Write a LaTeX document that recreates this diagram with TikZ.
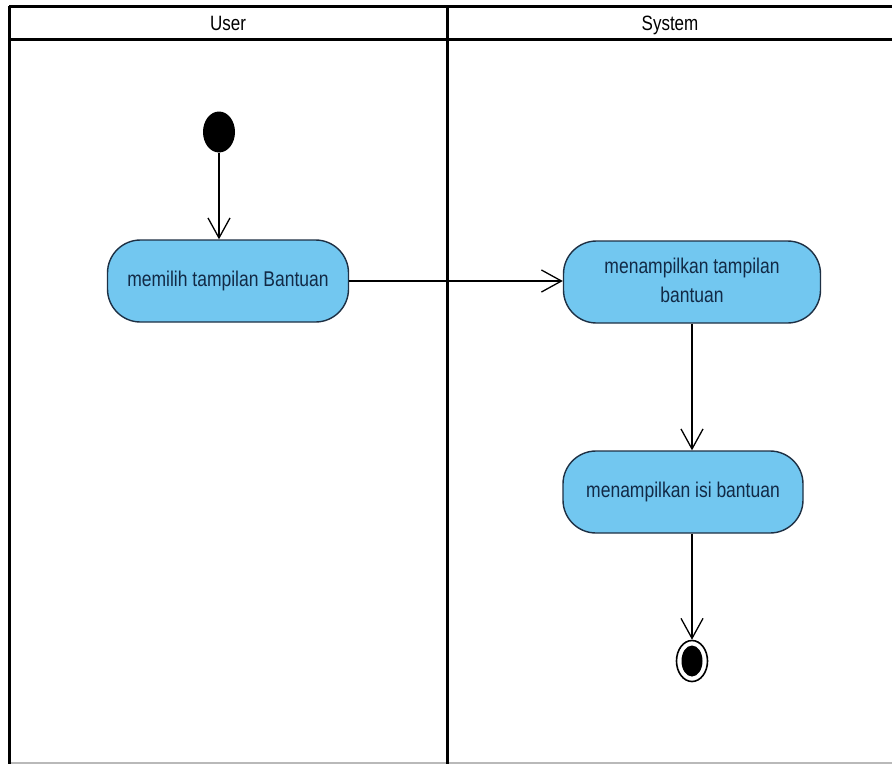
\documentclass[tikz,border=0pt]{standalone}
\usepackage{fontspec}
\usepackage{graphicx}
\setmainfont{Liberation Sans}
\usetikzlibrary{arrows.meta,shapes.geometric}
\definecolor{actfill}{RGB}{114,199,240}
\definecolor{actdraw}{RGB}{30,48,68}
\definecolor{acttext}{RGB}{18,42,70}
% labels are set slightly tall and narrow
\newcommand{\tallbox}[1]{\scalebox{1}[1.22]{\begin{tabular}{@{}c@{}}#1\end{tabular}}}
\begin{document}
\begin{tikzpicture}[x=1pt,y=-1pt,
  lane/.style={line width=3pt,black},
  lanehead/.style={font=\fontsize{17}{20}\selectfont,inner sep=0pt},
  action/.style={draw=actdraw,fill=actfill,line width=1.4pt,rounded corners=33pt,
    minimum height=82pt,text=acttext,font=\fontsize{17.5}{24.5}\selectfont,
    align=center,inner sep=0pt},
  flow/.style={line width=1.3pt,-{Straight Barb[length=20pt,width=22pt,line width=1.3pt]}},
  startdot/.style={ellipse,fill=black,minimum width=32pt,minimum height=41pt,inner sep=0pt},
  endring/.style={ellipse,draw=black,line width=1.6pt,minimum width=31pt,minimum height=41pt,inner sep=0pt},
  enddot/.style={ellipse,fill=black,minimum width=21pt,minimum height=31pt,inner sep=0pt}]
\useasboundingbox (0,0) rectangle (892,764);

% swimlane frame
\draw[gray!55,line width=1.5pt] (9,763) -- (892,763);
\draw[lane] (9,6) -- (892,6);
\draw[lane] (9,39) -- (892,39);
\draw[lane] (9,6) -- (9,764);
\draw[lane] (447,6) -- (447,764);
\node[lanehead] (hu) at (228,25.5) {\tallbox{User}};
\node[lanehead] (hs) at (670,25.5) {\tallbox{System}};

% activities
\node[startdot] (start) at (219,132) {};
\node[action,minimum width=241pt] (a1) at (228,281) {\tallbox{memilih tampilan Bantuan}};
\node[action,minimum width=257pt] (a2) at (692,282) {\tallbox{menampilkan tampilan\\bantuan}};
\node[action,minimum width=240pt] (a3) at (683,492) {\tallbox{menampilkan isi bantuan}};
\node[endring] (end) at (692,661) {};
\node[enddot] (enddot) at (end) {};

% control flows
\draw[flow] (start.south) -- (start.south |- a1.north);
\draw[flow] (a1.east) -- (a1.east -| a2.west);
\draw[flow] (a2.south) -- (a2.south |- a3.north);
\draw[flow] (a3.south -| a2.south) -- (end.north);
\end{tikzpicture}
\end{document}
